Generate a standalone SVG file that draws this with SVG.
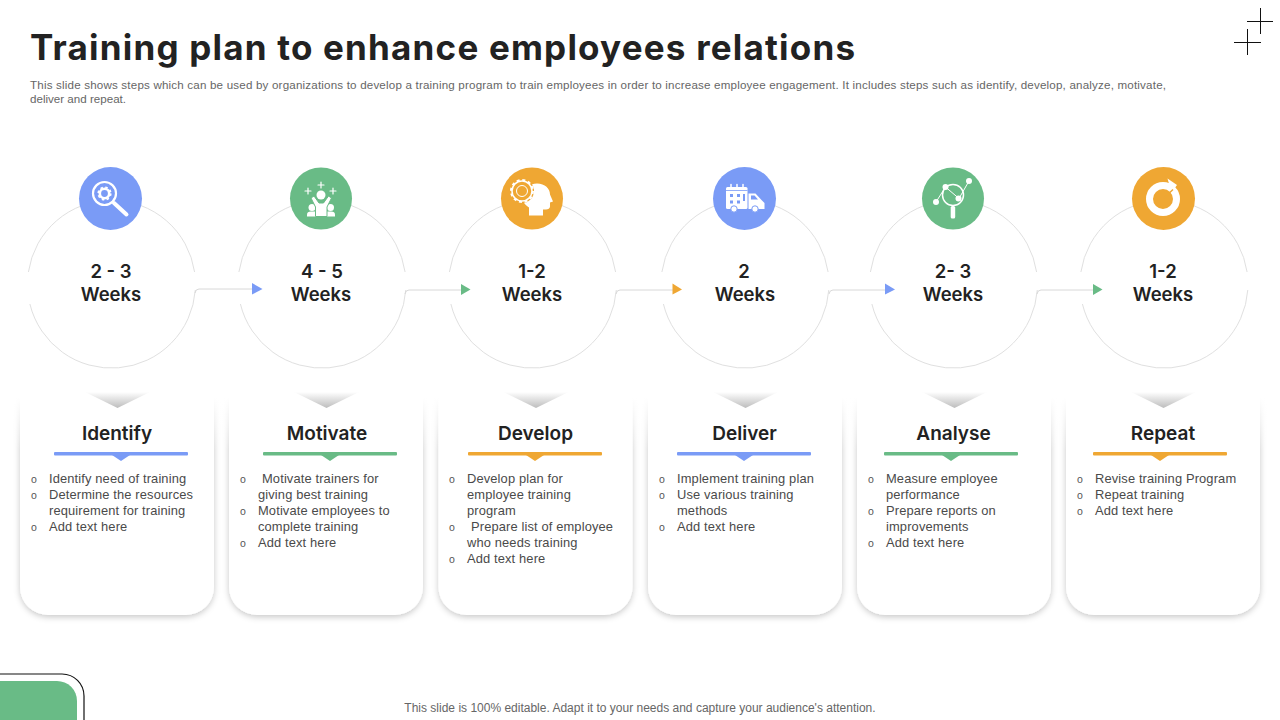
<svg xmlns="http://www.w3.org/2000/svg" width="1280" height="720" viewBox="0 0 1280 720">
<style>
text{font-family:"Liberation Sans",Arial,sans-serif}
.title{font-family:"Inter","Liberation Sans",sans-serif;font-size:35px;font-weight:700;fill:#222}
.sub{font-size:11.6px;fill:#666}
.wk{font-family:"Inter","Liberation Sans",sans-serif;font-size:18.500px;font-weight:600;fill:#222;text-anchor:middle}
.hd{font-family:"Inter","Liberation Sans",sans-serif;font-size:19px;font-weight:600;fill:#222;text-anchor:middle}
.b{font-size:12.9px;fill:#4a4a4a;letter-spacing:.13px}
.o{font-size:10.500px;fill:#555}
.ring{fill:none;stroke:#e0e0e0;stroke-width:1}
.cn{fill:none;stroke:#d8d8d8;stroke-width:1}
.ic{fill:#fff}
.il{fill:none;stroke:#fff;stroke-linecap:round}
.blue{fill:#7a9bf6}.green{fill:#69bb86}.orange{fill:#efa733}
.foot{font-size:12px;fill:#666;text-anchor:middle}
</style>
<defs>
<linearGradient id="chev" x1="0" y1="0" x2="0" y2="1"><stop offset="0" stop-color="#fff"/><stop offset="1" stop-color="#bdbdbd"/></linearGradient>
<linearGradient id="fade" x1="0" y1="0" x2="0" y2="1"><stop offset="0" stop-color="#fff"/><stop offset=".25" stop-color="#fff"/><stop offset="1" stop-color="#fff" stop-opacity="0"/></linearGradient>
<filter id="sh" x="-15%" y="-15%" width="130%" height="130%"><feDropShadow dx="0" dy="2" stdDeviation="3" flood-color="#000" flood-opacity=".22"/></filter>
<g id="card"><path d="M0 395H194V587a28 28 0 0 1-28 28H28a28 28 0 0 1-28-28Z" fill="#fff" filter="url(#sh)"/><rect x="-10" y="380" width="214" height="70" fill="url(#fade)"/><path d="M65 392H130L97.500 408Z" fill="url(#chev)"/></g>
<path id="ring" class="ring" d="M-83.100 -12A84 84 0 0 1 83.100 -12M83.800 6A84 84 0 0 1 -81.600 20"/>
</defs>
<rect width="1280" height="720" fill="#fff"/>
<g id="header">
<text class="title" x="30" y="60" textLength="825">Training plan to enhance employees relations</text>
<text class="sub" x="30" y="89" textLength="1136">This slide shows steps which can be used by organizations to develop a training program to train employees in order to increase employee engagement. It includes steps such as identify, develop, analyze, motivate,</text>
<text class="sub" x="30" y="103">deliver and repeat.</text>
</g>
<g id="corner-mark" stroke="#111" stroke-width="1" fill="none"><path d="M1247 21.500H1273M1260.500 8V34M1234 42.500H1261M1247.500 29V55"/></g>
<g id="corner-tab"><path d="M0 674H62a22 22 0 0 1 22 22V720" fill="none" stroke="#111" stroke-width="1.200"/><path d="M0 681H57a20 20 0 0 1 20 20V720H0Z" class="green"/></g>
<g id="node-1">
<use href="#ring" x="111.500" y="284"/>
<circle cx="110.500" cy="198.500" r="31.500" class="blue"/>
<circle cx="104.500" cy="193.500" r="11.500" fill="none" stroke="#fff" stroke-width="2.200"/><circle cx="104.500" cy="193.500" r="4.700" fill="none" stroke="#fff" stroke-width="2.600"/><circle cx="104.500" cy="193.500" r="6.300" fill="none" stroke="#fff" stroke-width="1.600" stroke-dasharray="2.500 2.450"/><path d="M114 203L126.500 214.500" class="il" stroke-width="4"/>
<text class="wk" x="111" y="278">2 - 3</text><text class="wk" x="111" y="301">Weeks</text>
</g>
<g id="node-2">
<use href="#ring" x="322" y="284"/>
<circle cx="321" cy="198.500" r="31" class="green"/>
<path d="M305 191h6M308 188v6M318 185h6M321 182v6M330 191h6M333 188v6" class="il" stroke-width="1.200"/>
<circle cx="312" cy="207.500" r="3.500" class="ic"/><circle cx="330.500" cy="207.500" r="3.500" class="ic"/><path d="M307 216.500v-2q0-3 4-3h20q4 0 4 3v2Z" class="ic"/>
<path d="M311 198l3-2 5 7h4.500l5-7 3 2-4.500 9v9.500h-11.500V207Z" class="ic" stroke="#69bb86" stroke-width="1"/><circle cx="321" cy="195" r="4.500" class="ic"/>
<text class="wk" x="322" y="278">4 - 5</text><text class="wk" x="321" y="301">Weeks</text>
</g>
<g id="node-3">
<use href="#ring" x="532.500" y="284"/>
<circle cx="532" cy="198.500" r="31" class="orange"/>
<path d="M529 215.500v-8c-5-3-7-7-6-13 1-7 7-11 14-11 8 0 13 5 13 11l3 7-3 1v4c0 2-2 3-4 3h-3v6Z" class="ic"/>
<circle cx="522" cy="191" r="12" class="orange"/><circle cx="522" cy="191" r="10" fill="none" stroke="#fff" stroke-width="1.500"/><circle cx="522" cy="191" r="11" fill="none" stroke="#fff" stroke-width="2" stroke-dasharray="3 2.760"/><circle cx="522" cy="191" r="5.500" fill="none" stroke="#fff" stroke-width="1"/>
<text class="wk" x="532" y="278">1-2</text><text class="wk" x="532" y="301">Weeks</text>
</g>
<g id="node-4">
<use href="#ring" x="745" y="284"/>
<circle cx="744.500" cy="198.500" r="31.500" class="blue"/>
<rect x="726" y="187" width="21.500" height="22" rx="1.500" class="ic"/><path d="M731 184.500v4M737 184.500v4M743 184.500v4" class="il" stroke-width="1.500"/><path d="M726 190.500h21.500" stroke="#7a9bf6" stroke-width=".8"/><path d="M730 194h3v3h-3ZM737 194h3v3h-3ZM730 200.500h3v3h-3ZM737 200.500h3v3h-3Z" class="blue"/><path d="M743 194h2v7h-2Z" class="blue"/>
<path d="M748.500 193.500h7l6 6.500 3 3v6h-16Z" class="ic"/><path d="M751 195.500h3.500l3.500 4h-7Z" class="blue"/>
<circle cx="734" cy="209" r="3.200" class="ic" stroke="#7a9bf6" stroke-width="1"/><circle cx="755" cy="209" r="3.200" class="ic" stroke="#7a9bf6" stroke-width="1"/>
<text class="wk" x="744" y="278">2</text><text class="wk" x="745" y="301">Weeks</text>
</g>
<g id="node-5">
<use href="#ring" x="953.500" y="284"/>
<circle cx="953" cy="198.500" r="31" class="green"/>
<circle cx="953" cy="195" r="10.500" fill="none" stroke="#fff" stroke-width="1.500"/><path d="M936 202L945.500 187M945.500 187L959 198.500M959 198.500L969 181" class="il" stroke-width="1"/><circle cx="936" cy="202" r="3" class="ic"/><circle cx="945.500" cy="187" r="3" class="ic"/><circle cx="958.500" cy="198.500" r="3" class="ic"/><circle cx="969" cy="181" r="3" class="ic"/><rect x="950.700" y="206" width="4.500" height="12.500" rx="1.500" class="ic"/>
<text class="wk" x="953" y="278">2- 3</text><text class="wk" x="953" y="301">Weeks</text>
</g>
<g id="node-6">
<use href="#ring" x="1164" y="284"/>
<circle cx="1163.500" cy="198.500" r="31.500" class="orange"/>
<circle cx="1163" cy="199" r="13.500" fill="none" stroke="#fff" stroke-width="7"/><path d="M1167.500 178.500L1177 185 1171.500 192.500Z" class="ic"/><path d="M1164 198l9-8.500" stroke="#efa733" stroke-width="1.500"/>
<text class="wk" x="1163" y="278">1-2</text><text class="wk" x="1163" y="301">Weeks</text>
</g>
<g id="connectors">
<path class="cn" d="M195 293q.5-4 4-4H253"/><path class="blue" d="M252 283L262.500 289 252 294.500Z"/>
<path class="cn" d="M405 294q.5-4 4-4H462"/><path class="green" d="M461 284L470.500 289.500 461 295Z"/>
<path class="cn" d="M616 294q.5-4 4-4H673"/><path class="orange" d="M672.500 283.500L682 289.500 672.500 294.500Z"/>
<path class="cn" d="M829 294q.5-4 4-4H886"/><path class="blue" d="M885 283.500L895 289.500 885 294.500Z"/>
<path class="cn" d="M1037 294q.5-4 4-4H1094"/><path class="green" d="M1093 284L1102.500 289.500 1093 295Z"/>
</g>
<g id="card-1"><use href="#card" x="20"/>
<text class="hd" x="117" y="440">Identify</text><rect x="54" y="452" width="134" height="3.500" rx="1" class="blue"/><path d="M112 455H130L121 461Z" class="blue"/>
<text class="o" x="31" y="483">o</text><text class="b" x="49" y="483">Identify need of training</text>
<text class="o" x="31" y="499">o</text><text class="b" x="49" y="499">Determine the resources</text><text class="b" x="49" y="515">requirement for training</text>
<text class="o" x="31" y="531">o</text><text class="b" x="49" y="531">Add text here</text></g>
<g id="card-2"><use href="#card" x="229"/>
<text class="hd" x="327" y="440">Motivate</text><rect x="263" y="452" width="134" height="3.500" rx="1" class="green"/><path d="M321 455H339L330 461Z" class="green"/>
<text class="o" x="240" y="483">o</text><text class="b" x="262" y="483">Motivate trainers for</text><text class="b" x="258" y="499">giving best training</text>
<text class="o" x="240" y="515">o</text><text class="b" x="258" y="515">Motivate employees to</text><text class="b" x="258" y="531">complete training</text>
<text class="o" x="240" y="547">o</text><text class="b" x="258" y="547">Add text here</text></g>
<g id="card-3"><use href="#card" x="438.500"/>
<text class="hd" x="535.500" y="440">Develop</text><rect x="468" y="452" width="134" height="3.500" rx="1" class="orange"/><path d="M526 455H544L535 461Z" class="orange"/>
<text class="o" x="449" y="483">o</text><text class="b" x="467" y="483">Develop plan for</text><text class="b" x="467" y="499">employee training</text><text class="b" x="467" y="515">program</text>
<text class="o" x="449" y="531">o</text><text class="b" x="471" y="531">Prepare list of employee</text><text class="b" x="467" y="547">who needs training</text>
<text class="o" x="449" y="563">o</text><text class="b" x="467" y="563">Add text here</text></g>
<g id="card-4"><use href="#card" x="648"/>
<text class="hd" x="744.500" y="440">Deliver</text><rect x="677" y="452" width="134" height="3.500" rx="1" class="blue"/><path d="M735 455H753L744 461Z" class="blue"/>
<text class="o" x="659" y="483">o</text><text class="b" x="677" y="483">Implement training plan</text>
<text class="o" x="659" y="499">o</text><text class="b" x="677" y="499">Use various training</text><text class="b" x="677" y="515">methods</text>
<text class="o" x="659" y="531">o</text><text class="b" x="677" y="531">Add text here</text></g>
<g id="card-5"><use href="#card" x="857"/>
<text class="hd" x="953.500" y="440">Analyse</text><rect x="884" y="452" width="134" height="3.500" rx="1" class="green"/><path d="M942 455H960L951 461Z" class="green"/>
<text class="o" x="868" y="483">o</text><text class="b" x="886" y="483">Measure employee</text><text class="b" x="886" y="499">performance</text>
<text class="o" x="868" y="515">o</text><text class="b" x="886" y="515">Prepare reports on</text><text class="b" x="886" y="531">improvements</text>
<text class="o" x="868" y="547">o</text><text class="b" x="886" y="547">Add text here</text></g>
<g id="card-6"><use href="#card" x="1066"/>
<text class="hd" x="1163" y="440">Repeat</text><rect x="1093" y="452" width="134" height="3.500" rx="1" class="orange"/><path d="M1151 455H1169L1160 461Z" class="orange"/>
<text class="o" x="1077" y="483">o</text><text class="b" x="1095" y="483">Revise training Program</text>
<text class="o" x="1077" y="499">o</text><text class="b" x="1095" y="499">Repeat training</text>
<text class="o" x="1077" y="515">o</text><text class="b" x="1095" y="515">Add text here</text></g>
<text class="foot" x="640" y="712">This slide is 100% editable. Adapt it to your needs and capture your audience's attention.</text>
</svg>
